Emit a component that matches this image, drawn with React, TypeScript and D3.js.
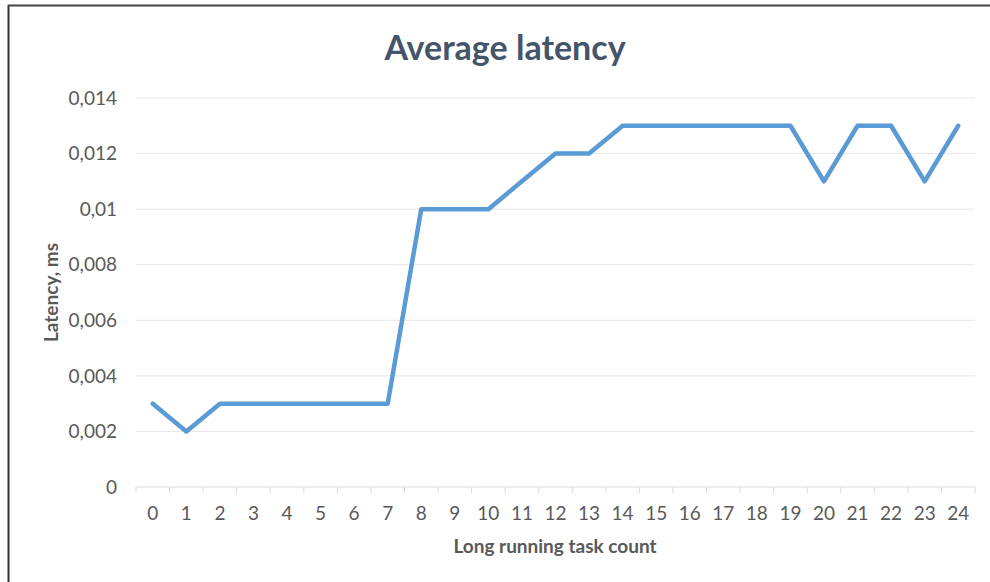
import React from 'react';
import * as d3 from 'd3';

const taskCounts = [
  '0', '1', '2', '3', '4', '5', '6', '7', '8', '9', '10', '11', '12',
  '13', '14', '15', '16', '17', '18', '19', '20', '21', '22', '23', '24',
];
const latency = [
  0.003, 0.002, 0.003, 0.003, 0.003, 0.003, 0.003, 0.003, 0.01, 0.01, 0.01,
  0.011, 0.012, 0.012, 0.013, 0.013, 0.013, 0.013, 0.013, 0.013, 0.011,
  0.013, 0.013, 0.011, 0.013,
];
const yTicks = [0, 0.002, 0.004, 0.006, 0.008, 0.01, 0.012, 0.014];

const W = 990;
const H = 582;
const margin = { top: 98, right: 15, bottom: 95, left: 136 };
const FONT = "Lato, 'Open Sans', sans-serif";

const App = () => {
  const x = d3.scaleBand()
    .domain(taskCounts)
    .range([margin.left, W - margin.right]);
  const y = d3.scaleLinear()
    .domain([0, 0.014])
    .range([H - margin.bottom, margin.top]);

  const line = d3.line<number>()
    .x((d, i) => (x(taskCounts[i]) as number) + x.bandwidth() / 2)
    .y(d => y(d));

  const fmt = (v: number) => (v === 0 ? '0' : String(+v.toFixed(3)).replace('.', ','));
  const bottom = y(0);

  return (
    <svg width={W} height={H} style={{ position: 'absolute', left: 0, top: 0, background: '#fff' }}>
      {/* frame */}
      <line x1={8.5} x2={8.5} y1={5} y2={H} stroke="#333" strokeWidth={2} />
      <line x1={8} x2={W} y1={5.5} y2={5.5} stroke="#444" strokeWidth={2} />

      <text x={505} y={60} textAnchor="middle" fontFamily={FONT} fontWeight="bold"
        fontSize={34} fill="#44546A">Average latency</text>

      {/* gridlines */}
      {yTicks.filter(t => t > 0).map(t => (
        <line key={t} x1={margin.left} x2={W - margin.right} y1={y(t)} y2={y(t)}
          stroke="#e6e6e6" strokeWidth={1} />
      ))}
      {yTicks.map(t => (
        <text key={'l' + t} x={117} y={y(t)} dy="0.35em" textAnchor="end"
          fontFamily={FONT} fontSize={19} fill="#595959">{fmt(t)}</text>
      ))}

      {/* x axis */}
      <line x1={margin.left} x2={W - margin.right} y1={bottom} y2={bottom} stroke="#d9d9d9" />
      {d3.range(taskCounts.length + 1).map(i => {
        const xx = margin.left + i * x.step();
        return <line key={'t' + i} x1={xx} x2={xx} y1={bottom} y2={bottom + 6} stroke="#d9d9d9" />;
      })}
      {taskCounts.map(c => (
        <text key={'c' + c} x={(x(c) as number) + x.bandwidth() / 2} y={520}
          textAnchor="middle" fontFamily={FONT} fontSize={19} fill="#595959">{c}</text>
      ))}

      <path d={line(latency) || ''} fill="none" stroke="#5B9BD5" strokeWidth={4.5}
        strokeLinejoin="round" strokeLinecap="round" />

      <text x={555} y={553} textAnchor="middle" fontFamily={FONT} fontWeight="bold"
        fontSize={19} fill="#595959">Long running task count</text>
      <text transform={`translate(58,${(margin.top + bottom) / 2}) rotate(-90)`}
        textAnchor="middle" fontFamily={FONT} fontWeight="bold" fontSize={19}
        fill="#595959">Latency, ms</text>
    </svg>
  );
};

export default App;
